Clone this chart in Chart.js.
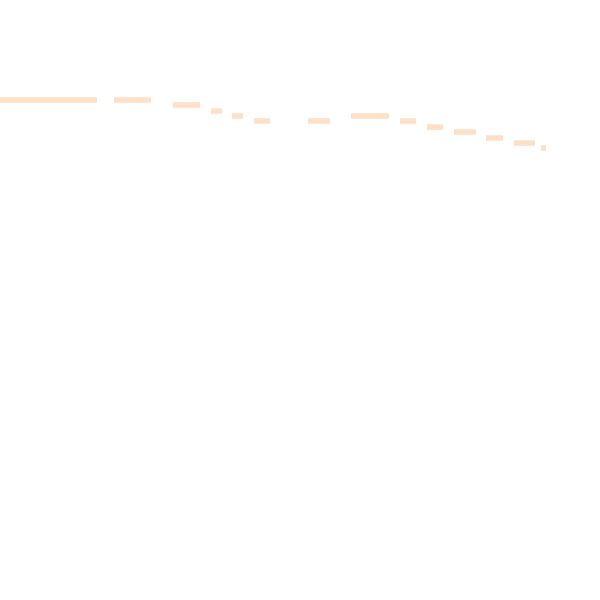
<!DOCTYPE html>
<html>
<head>
<meta charset="utf-8">
<style>
  html, body { margin: 0; padding: 0; background: #ffffff; }
  #wrap { width: 600px; height: 600px; }
</style>
<script src="https://cdn.jsdelivr.net/npm/chart.js@4/dist/chart.umd.min.js"></script>
</head>
<body>
<div id="wrap"><canvas id="c" width="600" height="600"></canvas></div>
<script>
// Segment starts, ends and levels (arbitrary units)
const segStart = [0, 22.8, 34.6, 42.2, 46.4, 50.8, 61.6, 70.2, 80, 85.4, 90.8, 97.2, 102.8, 108.2];
const segEnd   = [19.4, 30.2, 40, 44.4, 48.6, 54, 66, 77.8, 83.2, 88.6, 95.2, 100.6, 107, 109.2];
const segLevel = [100, 100, 99, 97.8, 96.8, 95.8, 95.8, 96.8, 95.8, 94.6, 93.6, 92.4, 91.4, 90.4];
// small light markers seen on the line
const dotX = [23.2, 29.4, 39.4, 53.4, 65, 77.2, 91.2];
const dotY = [99.9, 99.7, 98.8, 95.5, 95.5, 96.5, 93.3];

const lineData = [];
segStart.forEach((s, i) => {
  lineData.push({ x: s, y: segLevel[i] });
  lineData.push({ x: segEnd[i], y: segLevel[i] });
  if (i < segStart.length - 1) lineData.push({ x: (segEnd[i] + segStart[i + 1]) / 2, y: null });
});
const dotData = dotX.map((x, i) => ({ x, y: dotY[i] }));

new Chart(document.getElementById('c'), {
  type: 'line',
  data: {
    datasets: [
      {
        data: lineData,
        borderColor: 'rgb(255,223,198)',
        borderWidth: 5.7,
        borderCapStyle: 'butt',
        pointRadius: 0,
        spanGaps: false,
        fill: false,
        tension: 0,
        clip: false
      },
      {
        type: 'scatter',
        data: dotData,
        pointRadius: 0.8,
        pointBorderWidth: 0,
        backgroundColor: '#ffffff',
        borderColor: '#ffffff',
        clip: false
      }
    ]
  },
  options: {
    responsive: false,
    devicePixelRatio: 1,
    animation: false,
    layout: { padding: 0, autoPadding: false },
    plugins: { legend: { display: false }, tooltip: { enabled: false }, title: { display: false } },
    scales: {
      x: { type: 'linear', min: 0, max: 120, display: false },
      y: { type: 'linear', min: 0, max: 120, display: false }
    }
  }
});
</script>
</body>
</html>
